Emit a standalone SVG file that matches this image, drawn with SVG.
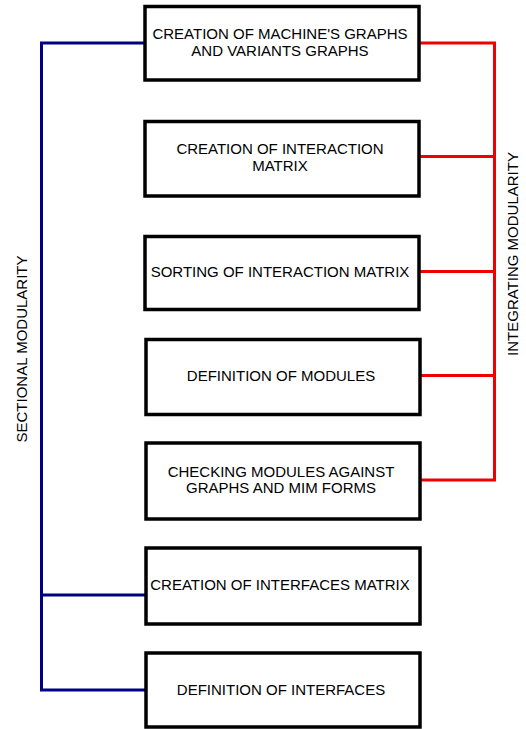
<svg xmlns="http://www.w3.org/2000/svg" width="526" height="729" viewBox="0 0 526 729">
<style>
.box{fill:#fff;stroke:#000;stroke-width:3.5}
.t{font-family:"Liberation Sans",Arial,sans-serif;font-size:15px;fill:#000;text-anchor:middle}
.blue{fill:none;stroke:#000080;stroke-width:3}
.red{fill:none;stroke:#ee0000;stroke-width:3}
</style>
<rect width="526" height="729" fill="#fff"/>
<g id="connectors">
<path class="blue" d="M144,43 H41.5 V690 H145 M41.5,595 H145"/>
<path class="red" d="M419,43 H494.5 V480 H420 M419,156.5 H494.5 M419,271.5 H494.5 M420,375.5 H494.5"/>
</g>
<g id="n1"><rect class="box" x="145" y="6.5" width="274" height="73.5"/><text class="t" x="280" y="39">CREATION OF MACHINE'S GRAPHS</text><text class="t" x="280" y="55.5">AND VARIANTS GRAPHS</text></g>
<g id="n2"><rect class="box" x="145" y="121.5" width="274" height="74.5"/><text class="t" x="280" y="154">CREATION OF INTERACTION</text><text class="t" x="280" y="170.5">MATRIX</text></g>
<g id="n3"><rect class="box" x="145" y="236.5" width="274" height="73"/><text class="t" x="280" y="276.5">SORTING OF INTERACTION MATRIX</text></g>
<g id="n4"><rect class="box" x="146" y="339.5" width="274" height="75"/><text class="t" x="281" y="381">DEFINITION OF MODULES</text></g>
<g id="n5"><rect class="box" x="146" y="443" width="274" height="76"/><text class="t" x="281" y="476.5">CHECKING MODULES AGAINST</text><text class="t" x="281" y="493">GRAPHS AND MIM FORMS</text></g>
<g id="n6"><rect class="box" x="146" y="548" width="274" height="76"/><text class="t" x="280" y="590">CREATION OF INTERFACES MATRIX</text></g>
<g id="n7"><rect class="box" x="146" y="653" width="274" height="74"/><text class="t" x="281" y="695">DEFINITION OF INTERFACES</text></g>
<g id="labels">
<text class="t" transform="translate(26.5,349) rotate(-90)">SECTIONAL MODULARITY</text>
<text class="t" transform="translate(517.5,254) rotate(-90)">INTEGRATING MODULARITY</text>
</g>
</svg>
